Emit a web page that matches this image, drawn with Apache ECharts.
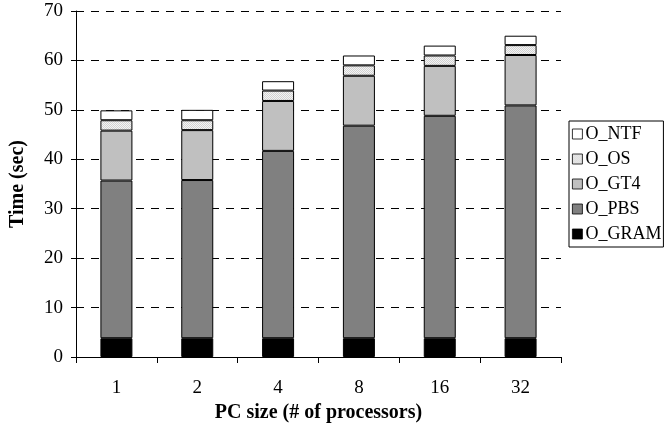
<!DOCTYPE html>
<html>
<head>
<meta charset="utf-8">
<script src="https://cdn.jsdelivr.net/npm/echarts@6/dist/echarts.min.js"></script>
<style>html,body{margin:0;padding:0;background:#fff}#c{width:665px;height:433px}</style>
</head>
<body>
<div id="c"></div>
<script>
var categories = ['1', '2', '4', '8', '16', '32'];
var O_GRAM = [3.8, 3.8, 3.8, 3.8, 3.8, 3.8];
var O_PBS  = [31.9, 32.0, 37.9, 43.0, 45.0, 47.1];
var O_GT4  = [10.1, 10.1, 10.1, 10.1, 10.1, 10.2];
var O_OS   = [2.1, 2.0, 2.1, 2.1, 2.1, 2.0];
var O_NTF  = [2.0, 2.1, 1.9, 2.0, 2.0, 1.9];
var yTicks = [0, 10, 20, 30, 40, 50, 60, 70];

var pc = document.createElement('canvas');
pc.width = 2; pc.height = 2;
var g = pc.getContext('2d');
g.fillStyle = '#f4f4f4'; g.fillRect(0, 0, 2, 2);
g.fillStyle = '#d2d2d2'; g.fillRect(0, 0, 1, 1); g.fillRect(1, 1, 1, 1);

var font = '"Liberation Serif", "Times New Roman", serif';
function s(name, data, color) {
  return {
    name: name, type: 'bar', stack: 'a', data: data, barWidth: 32,
    itemStyle: { color: color, borderColor: '#000', borderWidth: 1 }
  };
}
var chart = echarts.init(document.getElementById('c'));
chart.setOption({
  animation: false,
  textStyle: { fontFamily: font },
  grid: { left: 74, right: 104, top: 11, bottom: 76 },
  legend: {
    orient: 'vertical', left: 569, top: 121,
    data: ['O_NTF', 'O_OS', 'O_GT4', 'O_PBS', 'O_GRAM'],
    icon: 'rect', itemWidth: 10, itemHeight: 10, itemGap: 7,
    itemStyle: { borderColor: '#000', borderWidth: 0.8 },
    borderColor: '#000', borderWidth: 1, padding: [4, 2, 4, 3],
    textStyle: { fontFamily: font, fontSize: 18, color: '#000', padding: [0, 0, 0, -2] }
  },
  xAxis: {
    type: 'category', data: categories,
    name: 'PC size (# of processors)', nameLocation: 'middle', nameGap: 43,
    nameTextStyle: { fontFamily: font, fontSize: 20, fontWeight: 'bold', color: '#000' },
    axisLine: { lineStyle: { color: '#000', width: 1 } },
    axisTick: { show: true, interval: 0, length: 6, lineStyle: { color: '#000' } },
    axisLabel: { fontFamily: font, fontSize: 19, color: '#000', margin: 22, interval: 0 }
  },
  yAxis: {
    type: 'value', min: 0, max: 70, interval: 10,
    name: 'Time (sec)', nameLocation: 'middle', nameGap: 48,
    nameTextStyle: { fontFamily: font, fontSize: 20, fontWeight: 'bold', color: '#000' },
    axisLine: { show: true, lineStyle: { color: '#000', width: 1 } },
    axisTick: { show: true, length: 5, lineStyle: { color: '#000' } },
    axisLabel: { fontFamily: font, fontSize: 19, color: '#000', margin: 13,
      formatter: function (v) { return yTicks.indexOf(v) >= 0 ? String(v) : ''; } },
    splitLine: { show: true, lineStyle: { color: '#000', type: [8, 7], width: 1 } }
  },
  series: [
    s('O_GRAM', O_GRAM, '#000000'),
    s('O_PBS', O_PBS, '#808080'),
    s('O_GT4', O_GT4, '#c0c0c0'),
    s('O_OS', O_OS, { image: pc, repeat: 'repeat' }),
    s('O_NTF', O_NTF, '#ffffff')
  ]
});
</script>
</body>
</html>
